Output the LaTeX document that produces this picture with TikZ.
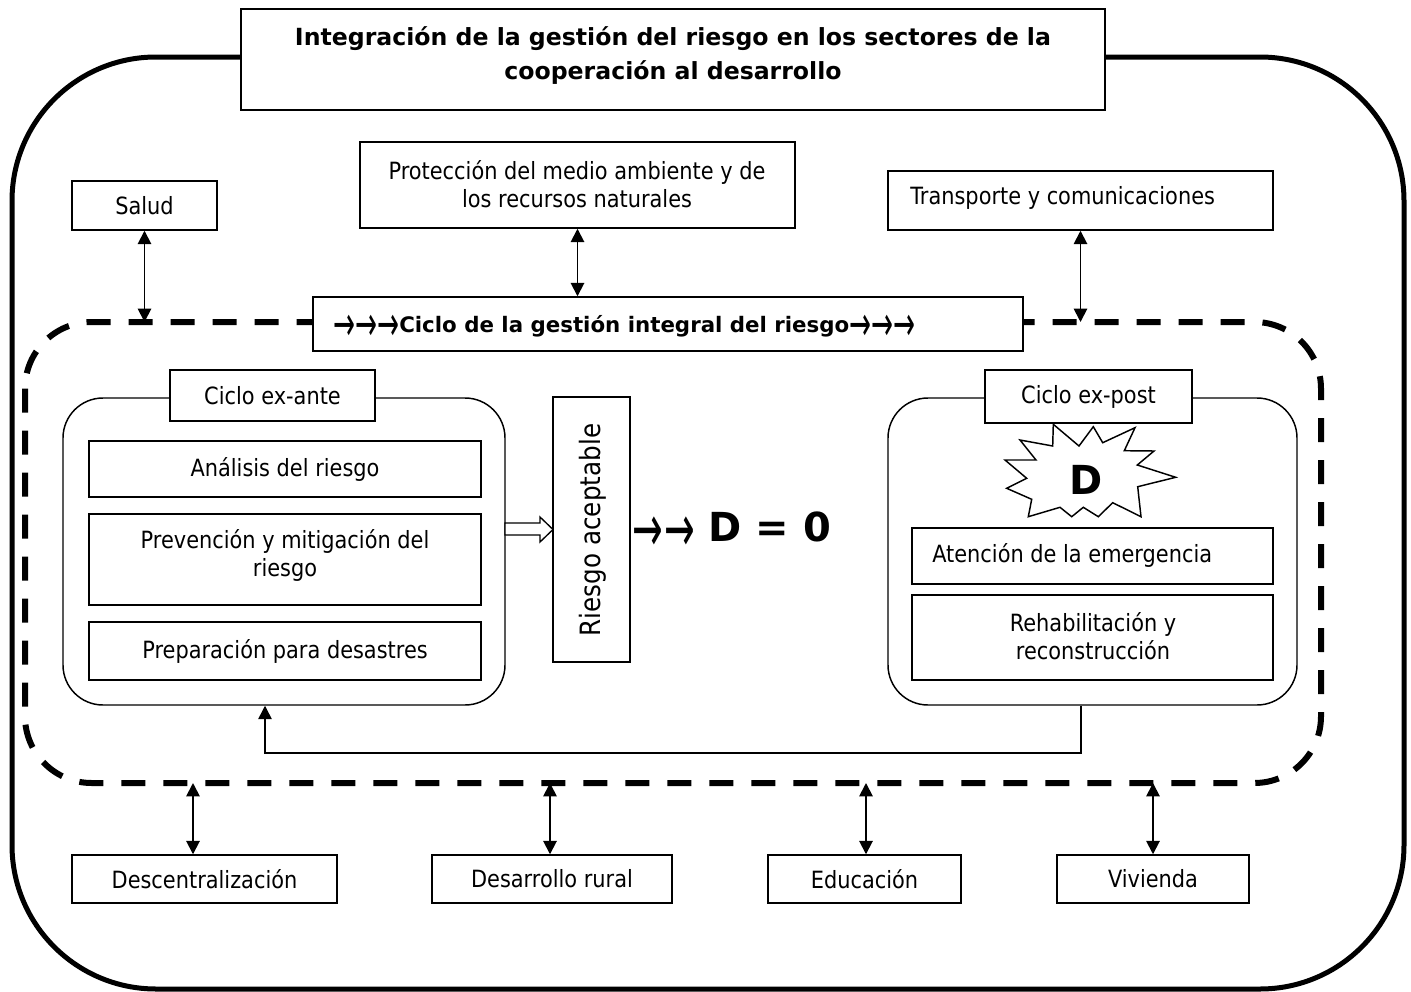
\documentclass[tikz,border=0pt]{standalone}
\usepackage{fontspec}
\usepackage{graphicx}
\setmainfont{DejaVu Sans}[FakeStretch=0.88]
\newfontfamily\bfam{DejaVu Sans}
\newcommand\myarrow[3]{\raisebox{#3}{\resizebox{#1}{#2}{\bfam\mdseries →}}}
\usetikzlibrary{arrows.meta,fit}
\begin{document}
\begin{tikzpicture}[x=0.75pt,y=-0.75pt,
  every node/.style={font=\fontsize{17.8}{21}\selectfont},
  box/.style={draw, line width=1.1pt, fill=white, inner sep=0pt},
  rbox/.style={draw, line width=1.1pt, rounded corners=30pt, inner sep=0pt},
  txt/.style={inner sep=0pt, align=center},
  dbl/.style={line width=1.4pt, {Triangle[width=10pt,length=10pt]}-{Triangle[width=10pt,length=10pt]}},
  one/.style={line width=1.1pt, -{Triangle[width=10pt,length=10pt]}}]
\useasboundingbox (0,0) rectangle (1411,992);
% outer frame
\draw[line width=3.75pt, rounded corners=108pt] (12,57) rectangle (1404,989);
\node[box, fit={(241,9)(1105,110)}] (title) {};
\node[txt, font=\fontsize{17.7}{25.5}\selectfont\bfam\bfseries] (titletext) at (673,56)
  {Integración de la gestión del riesgo en los sectores de la\\cooperación al desarrollo};
% top sectors
\node[box, fit={(72,181)(217,230)}] (salud) {};
\node[txt] (saludtext) at (salud.center) {Salud};
\node[box, fit={(360,142)(795,228)}] (prot) {};
\node[txt] (prottext) at (577,184) {Protección del medio ambiente y de\\los recursos naturales};
\node[box, fit={(888,171)(1273,230)}] (transp) {};
\node[txt, anchor=west] (transptext) at (910,198) {Transporte y comunicaciones};
% dashed cycle frame
\draw[line width=4.5pt, dash pattern=on 18pt off 13.5pt, rounded corners=50pt] (25,322) rectangle (1321,783);
\node[box, fit={(313,297)(1023,351)}] (ciclo) {};
\node[txt, font=\fontsize{16}{20}\selectfont\bfam\bfseries, anchor=base west] (ciclotext) at (333,332)
  {\myarrow{16.5pt}{19pt}{-6pt}\myarrow{16.5pt}{19pt}{-6pt}\myarrow{16.5pt}{19pt}{-6pt}Ciclo de la gestión integral del riesgo\myarrow{16.5pt}{19pt}{-6pt}\myarrow{16.5pt}{19pt}{-6pt}\myarrow{16.5pt}{19pt}{-6pt}};
% ex-ante
\node[rbox, fit={(63,398)(505,705)}] (exante) {};
\node[box, fit={(170,370)(375,421)}] (exantelbl) {};
\node[txt] (exantetext) at (exantelbl.center) {Ciclo ex-ante};
\node[box, fit={(89,441)(481,497)}] (analisis) {};
\node[txt] (analisistext) at (analisis.center) {Análisis del riesgo};
\node[box, fit={(89,514)(481,605)}] (prev) {};
\node[txt] (prevtext) at (285,555) {Prevención y mitigación del\\riesgo};
\node[box, fit={(89,622)(481,680)}] (prep) {};
\node[txt] (preptext) at (prep.center) {Preparación para desastres};
% riesgo aceptable
\node[box, fit={(553,397)(630,662)}] (riesgo) {};
\node[txt, rotate=90, font=\fontsize{21}{24}\selectfont] (riesgotext) at (593,530) {Riesgo aceptable};
\draw[line width=1pt, fill=white] (505,523) -- (540,523) -- (540,517) -- (553,529.5) -- (540,542) -- (540,535) -- (505,535) -- cycle;
\node[txt, anchor=base west, font=\fontsize{30}{32}\selectfont\bfam\bfseries] (dzero) at (632,541)
  {\myarrow{23pt}{26pt}{-8pt}\hspace{1pt}\myarrow{23pt}{26pt}{-8pt} D = 0};
% ex-post
\node[rbox, fit={(888,398)(1297,705)}] (expost) {};
\node[box, fit={(985,370)(1192,423)}] (expostlbl) {};
\node[txt] (eposttext) at (expostlbl.center) {Ciclo ex-post};
\draw[line width=1.1pt, fill=white] (1053.3,424.3) -- (1079,446) -- (1093.3,426.7) -- (1102.7,442.7)
  -- (1135,427.7) -- (1124.3,450.7) -- (1154,451) -- (1137.3,465) -- (1175.7,477.3) -- (1137.7,486.7)
  -- (1141,516.7) -- (1112.7,502.7) -- (1098.3,516.7) -- (1083.3,507.3) -- (1071.7,516.7) -- (1060,507.3)
  -- (1028.3,516.7) -- (1031.7,499.3) -- (1006.7,488.3) -- (1026.7,478.3) -- (1005,460) -- (1036,460)
  -- (1020,440) -- (1052.7,446) -- cycle;
\node[txt, font=\fontsize{30}{32}\selectfont\bfam\bfseries] (dd) at (1086,480) {D};
\node[box, fit={(912,528)(1273,584)}] (atencion) {};
\node[txt, anchor=west] (atenciontext) at (932,555) {Atención de la emergencia};
\node[box, fit={(912,595)(1273,680)}] (rehab) {};
\node[txt] (rehabtext) at (1093,636) {Rehabilitación y\\reconstrucción};
% feedback
\coordinate (fbR) at (1081,753);
\coordinate (fbL) at (265,753);
\draw[one] (expost.south -| fbR) -- (fbR) -- (fbL) -- (exante.south -| fbL);
% top connectors
\coordinate (dtop) at (0,322);
\draw[dbl] (salud.south) -- (salud.south |- dtop);
\draw[dbl] (prot.south) -- (prot.south |- ciclo.north);
\draw[dbl] (transp.south) -- (transp.south |- dtop);
% bottom sectors
\node[box, fit={(72,855)(337,903)}] (desc) {};
\node[txt] (desctext) at (desc.center) {Descentralización};
\node[box, fit={(432,855)(672,903)}] (rural) {};
\node[txt] (ruraltext) at (rural.center) {Desarrollo rural};
\node[box, fit={(768,855)(961,903)}] (edu) {};
\node[txt] (edutext) at (edu.center) {Educación};
\node[box, fit={(1057,855)(1249,903)}] (viv) {};
\node[txt] (vivtext) at (viv.center) {Vivienda};
\coordinate (b1) at (193,783);
\coordinate (b2) at (550,783);
\coordinate (b3) at (866,783);
\coordinate (b4) at (1153,783);
\draw[dbl] (b1) -- (desc.north -| b1);
\draw[dbl] (b2) -- (rural.north -| b2);
\draw[dbl] (b3) -- (edu.north -| b3);
\draw[dbl] (b4) -- (viv.north -| b4);
\end{tikzpicture}
\end{document}
